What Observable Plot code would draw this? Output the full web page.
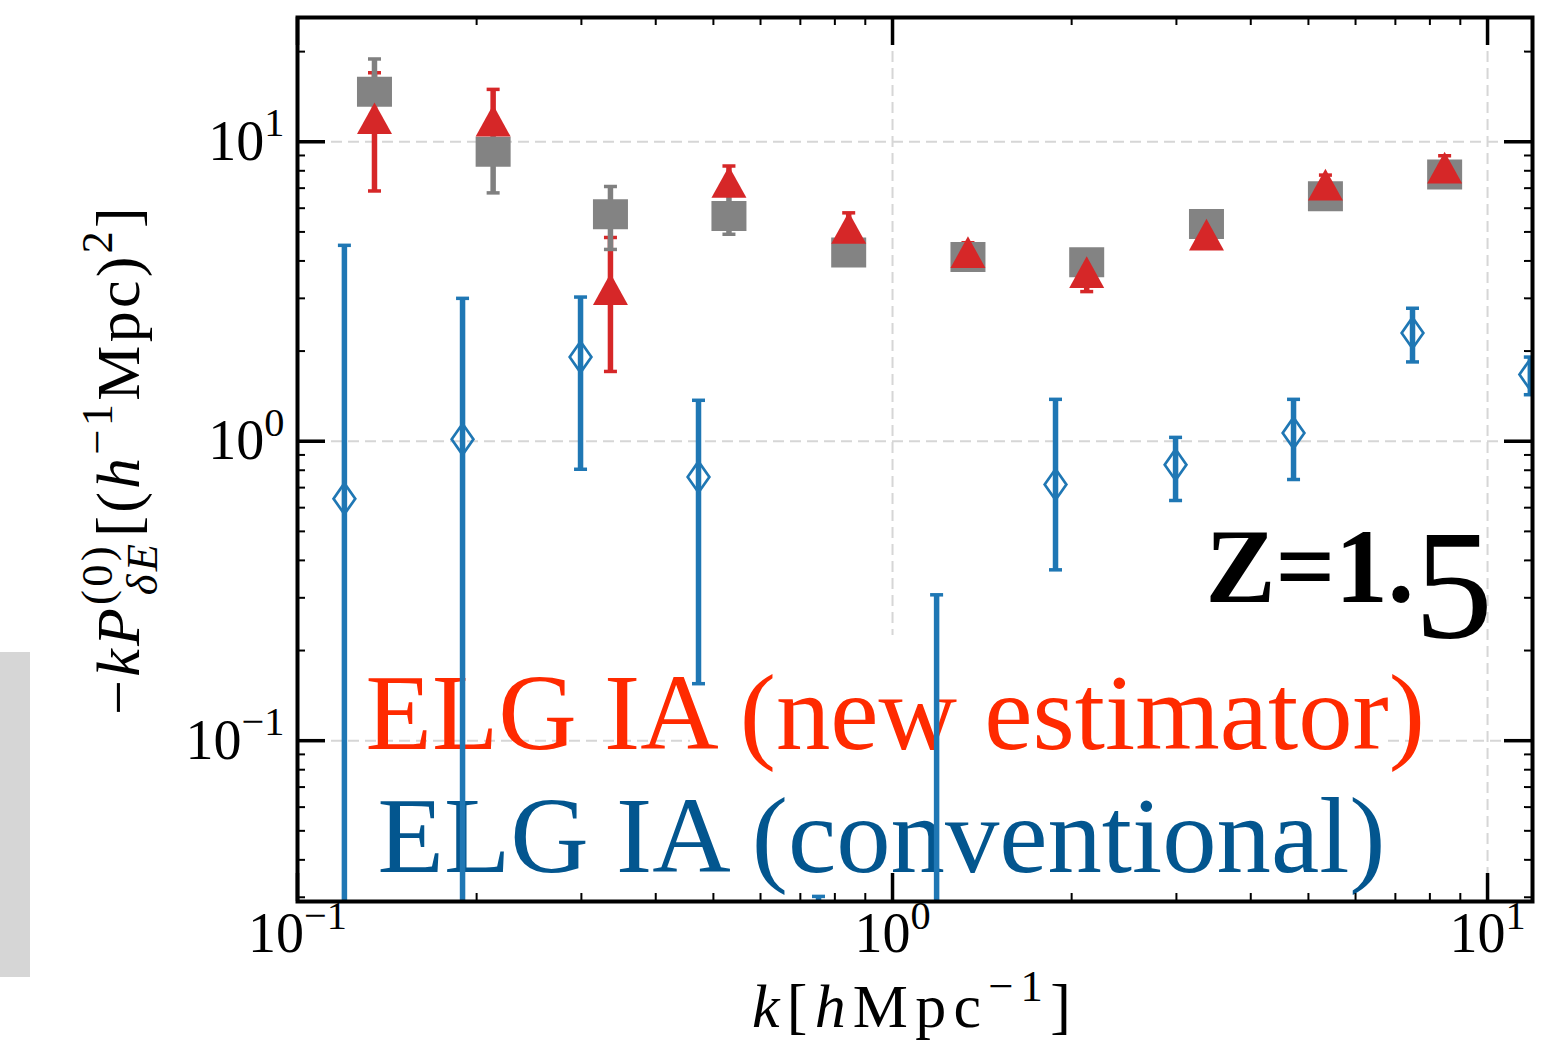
<!DOCTYPE html>
<html><head><meta charset="utf-8">
<script src="https://cdn.jsdelivr.net/npm/d3@7"></script>
<script src="https://cdn.jsdelivr.net/npm/@observablehq/plot@0.6"></script>
<style>
html,body{margin:0;padding:0;background:#fff;}
#wrap{position:relative;width:1558px;height:1049px;overflow:hidden;background:#fff;}
#gray{position:absolute;left:0;top:652px;width:30px;height:325px;background:#d6d6d6;}
#chart{position:absolute;left:0;top:0;}
</style></head><body>
<div id="wrap"><div id="gray"></div><div id="chart"></div></div>
<script>
// ---- data ----
const kBins   = [0.1347, 0.2132, 0.3357, 0.531, 0.844, 1.339, 2.12, 3.37, 5.34, 8.47];
const grayVal = [14.7, 9.27, 5.73, 5.65, 4.27, 4.12, 3.96, 5.31, 6.58, 7.77];
const grayLo  = [13.5, 6.75, 4.37, 4.91, 4.0, 3.9, 3.75, 5.05, 6.25, 7.4];
const grayHi  = [18.9, 10.8, 7.09, 6.9, 4.55, 4.35, 4.2, 5.6, 6.9, 8.15];
const redVal  = [11.98, 11.76, 3.22, 7.34, 5.16, 4.28, 3.67, 4.90, 7.19, 8.2];
const redLo   = [6.85, 11.0, 1.71, 7.0, 4.7, 4.0, 3.16, 4.6, 6.7, 7.6];
const redHi   = [17.0, 14.96, 4.79, 8.30, 5.79, 4.6, 3.9, 5.2, 7.74, 8.98];
const kBlue   = [0.1199, 0.1894, 0.299, 0.472, 0.751, 1.186, 1.879, 2.99, 4.72, 7.48, 11.8];
const blueVal = [0.643, 1.015, 1.91, 0.76, 0.02, 0.02, 0.717, 0.835, 1.066, 2.30, 1.67];
const blueLo  = [0.01, 0.01, 0.806, 0.155, 0.01, 0.01, 0.372, 0.634, 0.745, 1.84, 1.43];
const blueHi  = [4.51, 3.0, 3.03, 1.37, 0.0302, 0.307, 1.38, 1.03, 1.38, 2.78, 1.91];

const xMajor = [0.1, 1, 10];
const xMinor = [0.2,0.3,0.4,0.5,0.6,0.7,0.8,0.9, 2,3,4,5,6,7,8,9];
const yMajor = [0.1, 1, 10];
const yMinor = [0.03,0.04,0.05,0.06,0.07,0.08,0.09, 0.2,0.3,0.4,0.5,0.6,0.7,0.8,0.9, 2,3,4,5,6,7,8,9, 20];
const tickLabels = {"0.1": "10^−1", "1": "10^0", "10": "10^1"};

const legendNew = "ELG IA (new estimator)";
const legendConv = "ELG IA (conventional)";
const zLabel = "Z=1.5";
const xLabel = "k[hMpc−1]";
const yLabel = "−kPδE[(h−1Mpc)2]";

// ---- tables ----
const gray = kBins.map((k, i) => ({k, v: grayVal[i], lo: grayLo[i], hi: grayHi[i]}));
const red  = kBins.map((k, i) => ({k, v: redVal[i],  lo: redLo[i],  hi: redHi[i]}));
const blue = kBlue.map((k, i) => ({k, v: blueVal[i], lo: blueLo[i], hi: blueHi[i]}));

const W = 1558, H = 1049, mt = 17, mb = 148, ml = 297, mr = 26;
const fw = W - ml - mr, fh = H - mt - mb;

// custom marker symbols
const rad = size => Math.sqrt(size / Math.PI);
const rectSym = {draw(c, s) { const r = rad(s), h = r * 30 / 35; c.moveTo(-r, -h); c.lineTo(r, -h); c.lineTo(r, h); c.lineTo(-r, h); c.closePath(); }};
const triSym  = {draw(c, s) { const r = rad(s), h = r * 31.7 / 35; c.moveTo(0, -h); c.lineTo(r, h); c.lineTo(-r, h); c.closePath(); }};
const diaSym  = {draw(c, s) { const r = rad(s), w = r * 0.7; c.moveTo(0, -r); c.lineTo(w, 0); c.lineTo(0, r); c.lineTo(-w, 0); c.closePath(); }};
const capSym  = {draw(c, s) { const r = rad(s); c.moveTo(-r, 0); c.lineTo(r, 0); }};

function errMarks(data, color, clip = true) {
  return [
    Plot.ruleX(data, {x: "k", y1: "lo", y2: "hi", stroke: color, strokeWidth: 5.5, clip}),
    Plot.dot(data, {x: "k", y: "lo", symbol: capSym, r: 6.5, stroke: color, fill: "none", strokeWidth: 3.5, clip}),
    Plot.dot(data, {x: "k", y: "hi", symbol: capSym, r: 6.5, stroke: color, fill: "none", strokeWidth: 3.5, clip})
  ];
}

const gridStyle = {stroke: "#d6d6d6", strokeWidth: 2, strokeDasharray: "11,6"};

const chart = Plot.plot({
  width: W, height: H,
  marginTop: mt, marginBottom: mb, marginLeft: ml, marginRight: mr,
  style: {fontFamily: "'Liberation Serif', 'DejaVu Serif', serif", fontSize: "56px", background: "transparent", color: "black"},
  x: {type: "log", domain: [0.1, 11.9], ticks: xMajor, tickFormat: d => tickLabels[String(d)], tickSize: 0, tickPadding: 11, label: null},
  y: {type: "log", domain: [0.02904, 26.0], ticks: yMajor, tickFormat: d => tickLabels[String(d)], tickSize: 0, tickPadding: 13, label: null},
  marks: [
    // dashed grid (partly hidden behind the legend area, as in the reference)
    Plot.ruleX(xMajor.filter(d => d === 1), {...gridStyle, insetBottom: 266}),
    Plot.ruleX(xMajor.filter(d => d !== 1), gridStyle),
    Plot.ruleY(yMajor.filter(d => d !== 0.1), gridStyle),
    Plot.ruleY(yMajor.filter(d => d === 0.1), {...gridStyle, insetRight: 842}),
    Plot.ruleY(yMajor.filter(d => d === 0.1), {...gridStyle, insetLeft: 1091}),
    Plot.text([legendNew], {text: d => d, frameAnchor: "bottom-left", textAnchor: "start", lineAnchor: "bottom", dx: 68, dy: -153, fill: "#ff2a00", fontSize: 108.7}),
    Plot.text([legendConv], {text: d => d, frameAnchor: "bottom-left", textAnchor: "start", lineAnchor: "bottom", dx: 80, dy: -29.3, fill: "#03568f", fontSize: 108.7}),
    Plot.text([zLabel], {text: d => d, frameAnchor: "left", textAnchor: "start", lineAnchor: "bottom", dx: 908, dy: 142.7, fill: "black", fontSize: 105, fontWeight: "bold"}),
    ...errMarks(red, "#d62728"),
    ...errMarks(gray, "#808080"),
    ...errMarks(blue, "#1f77b4"),
    Plot.dot(gray, {x: "k", y: "v", symbol: rectSym, r: 17.5, fill: "#838383", stroke: "none", clip: true}),
    Plot.dot(red, {x: "k", y: "v", symbol: triSym, r: 17.5, fill: "#d62728", stroke: "none", clip: true}),
    Plot.dot(blue, {x: "k", y: "v", symbol: diaSym, r: 15.5, fill: "none", stroke: "#1f77b4", strokeWidth: 2.7, clip: true}),
    Plot.frame({stroke: "black", strokeWidth: 4}),
    // inward ticks on all four sides
    Plot.ruleX(xMajor, {insetTop: fh - 28, stroke: "black", strokeWidth: 3.5}),
    Plot.ruleX(xMajor, {insetBottom: fh - 28, stroke: "black", strokeWidth: 3.5}),
    Plot.ruleX(xMinor, {insetTop: fh - 8, stroke: "black", strokeWidth: 2}),
    Plot.ruleX(xMinor, {insetBottom: fh - 8, stroke: "black", strokeWidth: 2}),
    Plot.ruleY(yMajor, {insetRight: fw - 28, stroke: "black", strokeWidth: 3.5}),
    Plot.ruleY(yMajor, {insetLeft: fw - 28, stroke: "black", strokeWidth: 3.5}),
    Plot.ruleY(yMinor, {insetRight: fw - 8, stroke: "black", strokeWidth: 2}),
    Plot.ruleY(yMinor, {insetLeft: fw - 8, stroke: "black", strokeWidth: 2}),
    // axis titles
    Plot.text([xLabel], {text: d => d, frameAnchor: "bottom", textAnchor: "middle", lineAnchor: "bottom", dy: 125.7, fontSize: 62}),
    Plot.text([yLabel], {text: d => d, frameAnchor: "left", textAnchor: "middle", lineAnchor: "bottom", rotate: -90, dx: -159, fontSize: 62})
  ]
});
document.getElementById("chart").appendChild(chart);

// ---- rich (math) text rendering with tspans ----
const NS = "http://www.w3.org/2000/svg";
const rich = {
  "10^−1": {tokens: [{t: "10"}, {t: "−1", p: "sup"}]},
  "10^0": {tokens: [{t: "10"}, {t: "0", p: "sup"}]},
  "10^1": {tokens: [{t: "10"}, {t: "1", p: "sup"}]},
  [xLabel]: {len: 326, tokens: [{t: "k", i: 1}, {t: "["}, {t: "h", i: 1}, {t: "Mpc"}, {t: "−1", p: "sup"}, {t: "]"}]},
  [yLabel]: {len: 511, tokens: [{t: "−"}, {t: "k", i: 1}, {t: "P", i: 1}, {t: "(0)", p: "sup"}, {t: "δE", p: "sub", i: 1, back: 1},
             {t: "[("}, {t: "h", i: 1}, {t: "−1", p: "sup"}, {t: "Mpc)"}, {t: "2", p: "sup"}, {t: "]"}]},
  [zLabel]: {tokens: [{t: "Z=1.", b: 1}, {t: "5", fs: 1.5, off: 35, b: 0}]}
};
function renderRich(el, spec) {
  const tokens = spec.tokens;
  const base = parseFloat(getComputedStyle(el).fontSize);
  el.textContent = "";
  let cur = 0, prev = null, extra = 0;
  for (const tok of tokens) {
    const ts = document.createElementNS(NS, "tspan");
    const target = tok.off != null ? tok.off : tok.p === "sup" ? -0.42 * base : tok.p === "sub" ? 0.3 * base : 0;
    if (target !== cur) ts.setAttribute("dy", target - cur);
    cur = target;
    ts.setAttribute("font-size", (tok.fs ? tok.fs : tok.p ? 0.72 : 1) * base);
    if (tok.i) ts.setAttribute("font-style", "italic");
    if (tok.b === 1) ts.setAttribute("font-weight", "bold");
    if (tok.b === 0) ts.setAttribute("font-weight", "normal");
    ts.textContent = tok.t;
    el.appendChild(ts);
    if (tok.back && prev) {
      const wPrev = prev.getComputedTextLength();
      ts.setAttribute("dx", -wPrev);
      const wCur = ts.getComputedTextLength();
      extra = Math.max(0, wPrev - wCur);
    } else if (extra) {
      ts.setAttribute("dx", extra);
      extra = 0;
    }
    prev = ts;
  }
  if (spec.len) {
    // spread the glyphs so the label spans the same length as in the reference
    const w = el.getBBox().width;
    const n = tokens.reduce((s, t) => s + t.t.length, 0);
    const ls = (spec.len - w) / n;
    el.querySelectorAll("tspan").forEach(ts => ts.setAttribute("letter-spacing", ls));
  }
}
d3.select(chart).selectAll("text").each(function() {
  const key = this.textContent;
  if (rich[key]) renderRich(this, rich[key]);
});
</script>
</body></html>
